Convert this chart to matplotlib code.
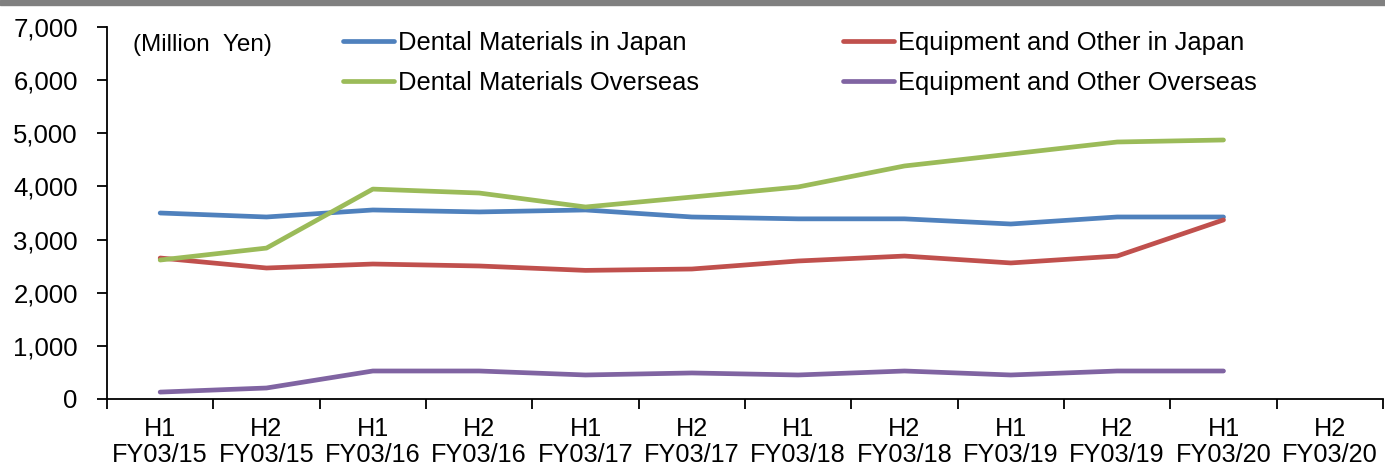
import matplotlib.pyplot as plt
import numpy as np
from matplotlib.patches import Rectangle

plt.rcParams['font.family'] = ['Liberation Sans', 'DejaVu Sans']

periods = ["H1\nFY03/15", "H2\nFY03/15", "H1\nFY03/16", "H2\nFY03/16",
           "H1\nFY03/17", "H2\nFY03/17", "H1\nFY03/18", "H2\nFY03/18",
           "H1\nFY03/19", "H2\nFY03/19", "H1\nFY03/20", "H2\nFY03/20"]

dental_japan = [3500, 3425, 3557, 3520, 3557, 3425, 3390, 3390, 3293, 3425, 3425]
equip_japan = [2653, 2465, 2540, 2503, 2420, 2446, 2597, 2690, 2560, 2690, 3370]
dental_overseas = [2615, 2840, 3950, 3876, 3613, 3800, 3990, 4385, 4610, 4836, 4874]
equip_overseas = [130, 207, 527, 527, 452, 490, 452, 527, 452, 527, 527]

fig = plt.figure(figsize=(13.85, 4.70), dpi=100)
ax = fig.add_axes([107/1385, 1-399/470, 1276/1385, 372/470])

# gray band on top
fig.patches.append(Rectangle((0, 1-5/470), 1, 5/470, transform=fig.transFigure,
                             color="#808080", zorder=0))

x = np.arange(len(dental_japan))
kw = dict(lw=3.4, solid_capstyle='round', solid_joinstyle='round')
l1, = ax.plot(x, dental_japan, color="#4F81BD", label="Dental Materials in Japan", **kw)
l2, = ax.plot(x, equip_japan, color="#C0504D", label="Equipment and Other in Japan", **kw)
l3, = ax.plot(x, dental_overseas, color="#9BBB59", label="Dental Materials Overseas", **kw)
l4, = ax.plot(x, equip_overseas, color="#8064A2", label="Equipment and Other Overseas", **kw)

ax.set_xlim(-0.5, len(periods) - 0.5)
ax.set_ylim(0, 7000)
ax.set_yticks(range(0, 7001, 1000))
ax.set_yticklabels([f"{v:,}" for v in range(0, 7001, 1000)])

ax.set_xticks(np.arange(len(periods) + 1) - 0.5)
ax.set_xticklabels([])
ax.set_xticks(np.arange(len(periods)), minor=True)
ax.set_xticklabels(periods, minor=True, linespacing=1.12)
ax.tick_params(axis='x', which='minor', length=0, pad=13, labelsize=18.2)
ax.tick_params(axis='x', which='major', length=7, width=1.3, direction='out')
ax.tick_params(axis='y', length=7, width=1.3, direction='out', labelsize=18.5, pad=14)

for s in ['top', 'right']:
    ax.spines[s].set_visible(False)
for s in ['left', 'bottom']:
    ax.spines[s].set_linewidth(1.3)

ax.text((133-107)/1276, (399-45)/372, "(Million  Yen)", transform=ax.transAxes,
        fontsize=17.5, va='center', ha='left')

ax.legend([l1, l3, l2, l4], [l1.get_label(), l3.get_label(), l2.get_label(), l4.get_label()],
          ncol=2, frameon=False, fontsize=18.4, loc='upper left',
          bbox_to_anchor=((333-107)/1276, (399-21)/372), handlelength=2.0, handletextpad=0.16,
          columnspacing=5.6, labelspacing=0.6, borderaxespad=0)

fig.savefig("out.png", dpi=100)
